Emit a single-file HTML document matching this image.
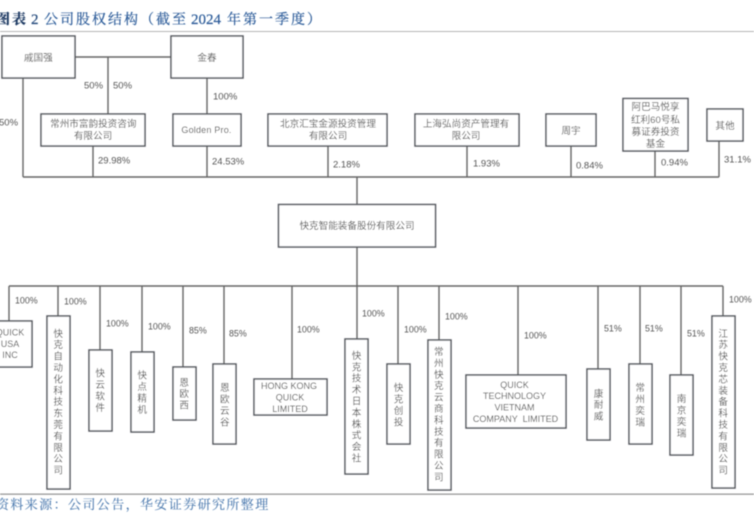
<!DOCTYPE html>
<html>
<head>
<meta charset="utf-8">
<style>
html,body{margin:0;padding:0;background:#fff;width:754px;height:515px;overflow:hidden}
svg{display:block}
.b{fill:#fff;stroke:#55595e;stroke-width:1.5}
.l{stroke:#666;stroke-width:1.4;fill:none}
text{font-family:"Liberation Sans","Noto Sans CJK SC",sans-serif;fill:#555}
.p{font-size:9.5px}
.q{font-size:8.9px}
.c{font-size:9.6px;text-anchor:middle}
.e{font-size:9px;text-anchor:middle;white-space:pre}
.v{font-size:9.6px;writing-mode:vertical-rl;text-anchor:middle;letter-spacing:1.8px}
.t{font-family:"Liberation Serif","Noto Serif CJK SC",serif;font-size:14px;letter-spacing:2px;fill:#2a5a98;stroke:#2a5a98;stroke-width:.2px}
.f{font-family:"Liberation Serif","Noto Serif CJK SC",serif;font-size:13px;letter-spacing:1.4px;fill:#4a78ad;stroke:#4a78ad;stroke-width:.1px}
</style>
</head>
<body>
<svg width="754" height="515" viewBox="0 0 754 515" xmlns="http://www.w3.org/2000/svg">
<defs><filter id="s" x="0" y="0" width="100%" height="100%"><feGaussianBlur stdDeviation="0.4"/></filter></defs>
<g filter="url(#s)">
<text class="t" x="-4" y="24" style="fill:#1f3a63;stroke:#1f3a63;font-weight:bold">图表</text>
<text class="t" x="31" y="24" style="fill:#24497c;stroke:#24497c;font-size:15px">2</text>
<text class="t" x="44" y="24">公司股权结构（截至</text>
<text class="t" x="191" y="24" style="font-size:15px;letter-spacing:0">2024</text>
<text class="t" x="227" y="24">年第一季度）</text>
<rect x="0" y="31" width="754" height="1" fill="#b5b5b5"/>

<path class="l" d="M75 57H171M108 57V114M23 78V177M207 78V114M93 146V177M207 146V177M328 146V177M467 146V177M571 146V177M655 151V177M719 141V177M23 177H719M357 177V204M357 247V286M9 286H723"/>
<path class="l" d="M9 286V321M58 286V316M100 286V350M142 286V352M183 286V367M224 286V364M292 286V379M357 286V339M398 286V364M439 286V340M518 286V375M598 286V369M640 286V364M681 286V375M723 286V316"/>

<rect class="b" x="2" y="36" width="73" height="42"/>
<rect class="b" x="171" y="36" width="72" height="42"/>
<rect class="b" x="41" y="114" width="104" height="32"/>
<rect class="b" x="173" y="114" width="68" height="32"/>
<rect class="b" x="268" y="114" width="119" height="32"/>
<rect class="b" x="415" y="114" width="104" height="32"/>
<rect class="b" x="546" y="114" width="50" height="32"/>
<rect class="b" x="623" y="98.500" width="65" height="52.500"/>
<rect class="b" x="707" y="109" width="36" height="32"/>
<rect class="b" x="278.500" y="204.500" width="157" height="42.500"/>
<rect class="b" x="-3" y="321" width="35" height="46"/>
<rect class="b" x="47" y="316" width="23" height="173"/>
<rect class="b" x="89" y="350" width="23" height="81"/>
<rect class="b" x="131" y="352" width="23" height="80"/>
<rect class="b" x="173" y="367" width="23" height="53"/>
<rect class="b" x="213" y="364" width="23" height="80"/>
<rect class="b" x="254" y="379" width="73" height="36"/>
<rect class="b" x="345" y="339" width="23" height="135"/>
<rect class="b" x="387" y="364" width="23" height="80"/>
<rect class="b" x="428" y="340" width="23" height="150"/>
<rect class="b" x="466" y="375" width="100" height="53"/>
<rect class="b" x="587" y="369" width="23" height="71"/>
<rect class="b" x="629" y="364" width="23" height="80"/>
<rect class="b" x="670" y="375" width="23" height="80"/>
<rect class="b" x="712" y="316" width="23" height="172"/>

<text class="c" x="38.300" y="61">戚国强</text>
<text class="c" x="207" y="61">金春</text>
<text class="c" x="93.300" y="127">常州市富韵投资咨询</text>
<text class="c" x="93" y="139">有限公司</text>
<text class="e" x="206.500" y="133" style="letter-spacing:.2px">Golden Pro.</text>
<text class="c" x="328" y="127">北京汇宝金源投资管理</text>
<text class="c" x="328" y="139">有限公司</text>
<text class="c" x="466" y="127">上海弘尚资产管理有</text>
<text class="c" x="466" y="139">限公司</text>
<text class="c" x="571" y="134">周宇</text>
<text class="c" x="655.500" y="110">阿巴马悦享</text>
<text class="c" x="655.500" y="123">红利60号私</text>
<text class="c" x="655.500" y="135">募证券投资</text>
<text class="c" x="655.500" y="147">基金</text>
<text class="c" x="725" y="129">其他</text>
<text class="c" x="357" y="229">快克智能装备股份有限公司</text>

<text class="e" x="10" y="335.500">QUICK</text>
<text class="e" x="10" y="347">USA</text>
<text class="e" x="10" y="358">INC</text>
<text class="e" x="289" y="389">HONG KONG</text>
<text class="e" x="290" y="400.500">QUICK</text>
<text class="e" x="290" y="412">LIMITED</text>
<text class="e" x="514.500" y="388">QUICK</text>
<text class="e" x="514.500" y="399">TECHNOLOGY</text>
<text class="e" x="514.500" y="410.500">VIETNAM</text>
<text class="e" x="515.500" y="422">COMPANY  LIMITED</text>

<text class="v" x="56.700" y="402.500">快克自动化科技东莞有限公司</text>
<text class="v" x="98.700" y="391">快云软件</text>
<text class="v" x="140.700" y="393">快点精机</text>
<text class="v" x="182.700" y="394.500">恩欧西</text>
<text class="v" x="223.300" y="405.500">恩欧云谷</text>
<text class="v" x="355" y="407.500">快克技术日本株式会社</text>
<text class="v" x="397" y="405.500">快克创投</text>
<text class="v" x="437.300" y="415">常州快克云商科技有限公司</text>
<text class="v" x="597" y="405.500">康耐威</text>
<text class="v" x="638.700" y="405.500">常州奕瑞</text>
<text class="v" x="680" y="416.500">南京奕瑞</text>
<text class="v" x="721.700" y="402.500">江苏快克芯装备科技有限公司</text>

<text class="p" x="-1" y="125.500">50%</text>
<text class="p" x="84" y="88.500">50%</text>
<text class="p" x="113" y="88.500">50%</text>
<text class="p" x="213" y="99.500">100%</text>
<text class="p" x="98" y="163.500">29.98%</text>
<text class="p" x="212" y="164.500">24.53%</text>
<text class="p" x="333" y="167.500">2.18%</text>
<text class="p" x="473" y="166.500">1.93%</text>
<text class="p" x="576" y="168.500">0.84%</text>
<text class="p" x="661" y="165.500">0.94%</text>
<text class="p" x="724" y="162.500">31.1%</text>

<text class="q" x="15" y="303.500">100%</text>
<text class="q" x="64" y="304.500">100%</text>
<text class="q" x="106" y="326.500">100%</text>
<text class="q" x="148" y="329.500">100%</text>
<text class="q" x="189" y="333.500">85%</text>
<text class="q" x="229" y="336.500">85%</text>
<text class="q" x="297" y="332.500">100%</text>
<text class="q" x="362" y="316.500">100%</text>
<text class="q" x="404" y="332.500">100%</text>
<text class="q" x="445" y="319.500">100%</text>
<text class="q" x="524" y="338.500">100%</text>
<text class="q" x="604" y="331.500">51%</text>
<text class="q" x="645" y="331.500">51%</text>
<text class="q" x="687" y="336.500">51%</text>
<text class="q" x="729" y="302.500">100%</text>

<rect x="0" y="493.500" width="754" height="1.300" fill="#999"/>
<text class="f" x="-4" y="509">资料来源：公司公告，华安证券研究所整理</text>
</g>
</svg>
</body>
</html>
